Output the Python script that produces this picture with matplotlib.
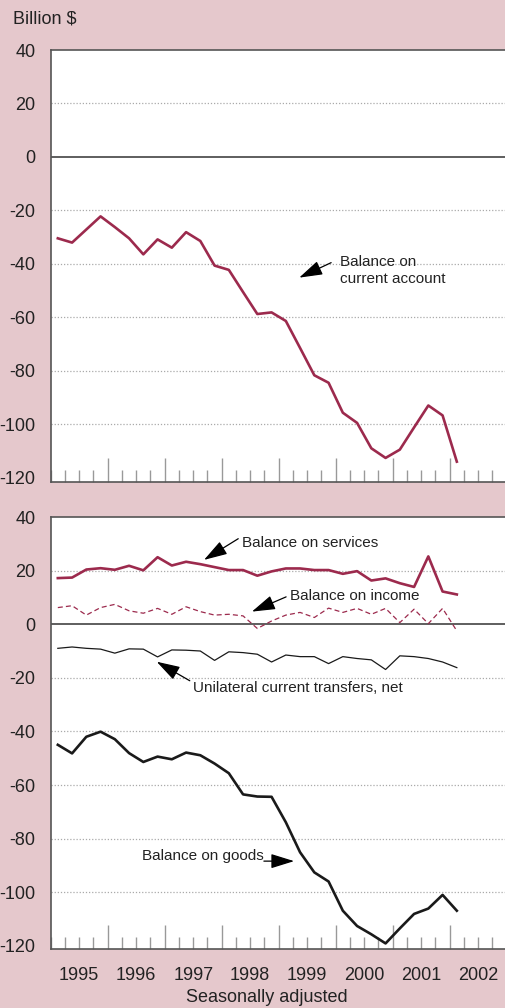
import numpy as np
import matplotlib.pyplot as plt

plt.rcParams['font.family'] = ['Liberation Sans', 'DejaVu Sans']

# quarterly data, 1995Q1 - 2002Q1, billion $, seasonally adjusted
quarters = ['%dQ%d' % (y, q) for y in range(1995, 2002) for q in range(1, 5)] + ['2002Q1']

current_account = [-30.4, -32.0, -27.1, -22.2, -26.2, -30.4, -36.4, -30.8, -33.9, -28.1,
                   -31.4, -40.6, -42.2, -50.5, -58.7, -58.1, -61.3, -71.4, -81.6, -84.4,
                   -95.6, -99.4, -108.9, -112.5, -109.4, -101.1, -92.9, -96.6, -113.9]

services = [17.2, 17.4, 20.4, 20.9, 20.3, 21.8, 20.1, 25.0, 21.9, 23.3,
            22.4, 21.3, 20.2, 20.2, 18.1, 19.7, 20.8, 20.8, 20.2, 20.2,
            18.8, 19.8, 16.3, 17.1, 15.3, 13.9, 25.3, 12.2, 11.1]

income = [6.2, 6.9, 3.4, 6.2, 7.4, 5.0, 4.1, 5.9, 3.7, 6.5,
          4.7, 3.4, 3.7, 3.1, -1.6, 1.2, 3.4, 4.4, 2.5, 6.0,
          4.4, 5.9, 3.7, 5.9, 0.6, 5.6, 0.2, 5.9, -2.5]

transfers = [-9.0, -8.5, -9.0, -9.3, -10.8, -9.2, -9.3, -12.2, -9.6, -9.7,
             -10.0, -13.5, -10.3, -10.6, -11.2, -14.1, -11.5, -12.1, -12.1, -14.7,
             -12.1, -12.8, -13.3, -16.9, -11.8, -12.1, -12.8, -14.1, -16.2]

goods = [-45.0, -48.2, -42.0, -40.1, -42.9, -48.1, -51.4, -49.4, -50.4, -47.9,
         -48.9, -52.0, -55.6, -63.5, -64.3, -64.4, -73.9, -85.1, -92.6, -96.0,
         -106.9, -112.6, -115.7, -119.1, -113.5, -108.1, -106.1, -101.0, -106.9]

years = list(range(1995, 2003))

# place each quarter at its midpoint
x = np.array([int(s[:4]) + (int(s[-1]) - 0.5) / 4 for s in quarters])

bg = '#e5c8cc'
maroon = '#9c2a4d'
fs = 13

fig = plt.figure(figsize=(5.05, 10.08), dpi=100, facecolor=bg)
w = 8 * 57 / 505
ax1 = fig.add_axes([50.7 / 505, 1 - 482 / 1008, w, 432 / 1008])
ax2 = fig.add_axes([50.7 / 505, 1 - 948.5 / 1008, w, 431.5 / 1008])


def style(ax, ylo):
    ax.set_xlim(1995, 2003)
    ax.set_ylim(ylo, 40)
    ax.set_facecolor('white')
    for s in ['left', 'top', 'bottom']:
        ax.spines[s].set_color('#555555')
        ax.spines[s].set_linewidth(1.2)
    ax.spines['right'].set_visible(False)
    ax.set_yticks(range(-120, 41, 20))
    ax.set_yticklabels([str(v) for v in range(-120, 41, 20)], fontsize=fs, color='#222222')
    ax.tick_params(axis='y', length=0, pad=11)
    ax.set_xticks(years[1:])
    ax.set_xticks(np.arange(1995, 2003, 0.25), minor=True)
    ax.tick_params(axis='x', which='major', direction='in', length=17, width=1, color='#999999',
                   labelbottom=False)
    ax.tick_params(axis='x', which='minor', direction='in', length=9, width=1, color='#999999')
    for v in [20, -20, -40, -60, -80, -100]:
        ax.axhline(v, color='#aaaaaa', lw=0.9, ls=(0, (1, 1.5)), zorder=0)
    ax.axhline(0, color='#333333', lw=1.1, zorder=1)


style(ax1, -121.5)
style(ax2, -121)

arrow = dict(arrowstyle='-|>,head_length=0.9,head_width=0.28', color='black', lw=0.9,
             mutation_scale=16, shrinkA=0, shrinkB=0)

# top panel
ax1.plot(x, current_account, color=maroon, lw=1.9, zorder=3)
ax1.text(2000.08, -42.5, 'Balance on\ncurrent account', fontsize=11, ha='left', va='center',
         linespacing=1.3, color='#222222')
ax1.annotate('', xy=(1999.36, -45.1), xytext=(1999.92, -39.5), arrowprops=arrow)

# bottom panel
ax2.plot(x, services, color=maroon, lw=1.9, zorder=3)
ax2.plot(x, income, color=maroon, lw=0.9, ls=(0, (4, 2.5)), zorder=3)
ax2.plot(x, transfers, color='#1a1a1a', lw=0.9, zorder=3)
ax2.plot(x, goods, color='#1a1a1a', lw=1.9, zorder=3)

ax2.text(1998.36, 30.4, 'Balance on services', fontsize=11, ha='left', va='center', color='#222222')
ax2.annotate('', xy=(1997.69, 24.0), xytext=(1998.29, 31.9), arrowprops=arrow)
ax2.text(1999.20, 10.6, 'Balance on income', fontsize=11, ha='left', va='center', color='#222222')
ax2.annotate('', xy=(1998.53, 4.7), xytext=(1999.13, 10.2), arrowprops=arrow)
ax2.text(1997.50, -23.8, 'Unilateral current transfers, net', fontsize=11, ha='left', va='center',
         color='#222222')
ax2.annotate('', xy=(1996.86, -14.0), xytext=(1997.44, -21.1), arrowprops=arrow)
ax2.text(1996.60, -86.5, 'Balance on goods', fontsize=11, ha='left', va='center', color='#222222')
ax2.annotate('', xy=(1999.27, -88.4), xytext=(1998.74, -88.4), arrowprops=arrow)

# year labels centred in each year
sec = ax2.secondary_xaxis('bottom')
sec.set_xticks([y + 0.5 for y in years])
sec.set_xticklabels([str(y) for y in years], fontsize=fs, color='#222222')
sec.tick_params(length=0, pad=13)
sec.spines['bottom'].set_visible(False)

fig.text(267 / 505, 1 - 997 / 1008, 'Seasonally adjusted', fontsize=fs, ha='center', va='center',
         color='#222222')
fig.text(13 / 505, 1 - 19 / 1008, 'Billion $', fontsize=fs, ha='left', va='center', color='#222222')

fig.savefig('out.png', dpi=100, facecolor=bg)
